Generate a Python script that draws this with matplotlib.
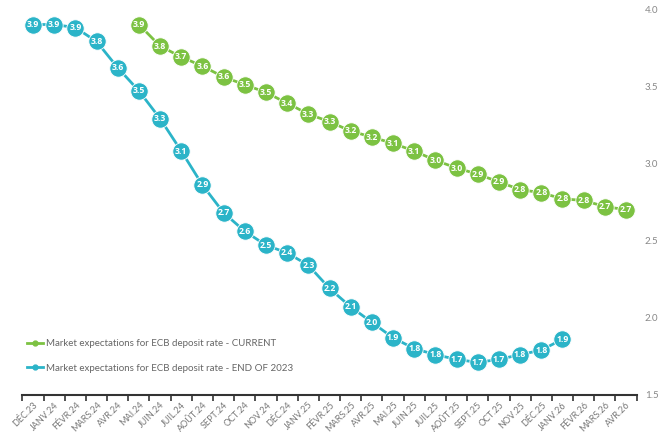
import matplotlib.pyplot as plt

plt.rcParams['font.family'] = ['Lato', 'DejaVu Sans']

# Monthly categories on the x axis
months = ["DÉC.23", "JANV.24", "FÉVR.24", "MARS.24", "AVR.24", "MAI.24", "JUIN.24",
          "JUIL.24", "AOÛT.24", "SEPT.24", "OCT.24", "NOV.24", "DÉC.24", "JANV.25",
          "FÉVR.25", "MARS.25", "AVR.25", "MAI.25", "JUIN.25", "JUIL.25", "AOÛT.25",
          "SEPT.25", "OCT.25", "NOV.25", "DÉC.25", "JANV.26", "FÉVR.26", "MARS.26",
          "AVR.26"]

# Expectations at end of 2023: DÉC.23 -> JANV.26
end2023 = [3.90, 3.90, 3.88, 3.79, 3.62, 3.47, 3.29, 3.08, 2.86, 2.68, 2.56, 2.47,
           2.42, 2.34, 2.19, 2.07, 1.97, 1.87, 1.80, 1.76, 1.73, 1.71, 1.73, 1.76,
           1.79, 1.86]

# Current expectations: MAI.24 -> AVR.26
current = [3.90, 3.76, 3.69, 3.63, 3.56, 3.51, 3.46, 3.39, 3.32, 3.27, 3.21, 3.17,
           3.13, 3.08, 3.02, 2.97, 2.93, 2.88, 2.83, 2.81, 2.77, 2.76, 2.72, 2.70]

green = "#7cc242"
blue = "#2bb4c8"

fig = plt.figure(figsize=(6.59, 4.32), dpi=100)
ax = fig.add_axes([0.034, 0.086, 0.932, 0.893])

x_end = list(range(len(end2023)))
x_cur = list(range(5, 5 + len(current)))


def draw_series(xs, ys, color, label):
    ax.plot(xs, ys, color=color, lw=2, zorder=2)
    ax.plot(xs, ys, ls='none', marker='o', ms=12.5, color=color,
            markeredgecolor='white', markeredgewidth=0.6, zorder=3)
    for x, y in zip(xs, ys):
        ax.text(x, y, f"{y:.1f}", color='white', fontsize=6.2, fontweight='bold',
                family=['Open Sans', 'DejaVu Sans'],
                ha='center', va='center', zorder=4)
    # legend handle
    ax.plot([], [], color=color, lw=2, marker='o', ms=3.5, label=label)


draw_series(x_cur, current, green, "Market expectations for ECB deposit rate - CURRENT")
draw_series(x_end, end2023, blue, "Market expectations for ECB deposit rate - END OF 2023")

ax.set_xlim(-0.5, len(months) - 0.5)
ax.set_ylim(1.5, 4.0)

ax.set_xticks(range(len(months)))
ax.set_xticklabels(months, rotation=45, ha='right', rotation_mode='anchor',
                   fontsize=6.5, color='#777777')
ax.set_xticks([i - 0.5 for i in range(len(months) + 1)], minor=True)
ax.tick_params(axis='x', which='major', length=0, pad=4)
ax.tick_params(axis='x', which='minor', length=4, width=1.2, color='#333333')

ax.yaxis.tick_right()
ax.set_yticks([1.5, 2.0, 2.5, 3.0, 3.5, 4.0])
ax.set_yticklabels(["1.5", "2.0", "2.5", "3.0", "3.5", "4.0"])
ax.tick_params(axis='y', length=0, pad=6, labelsize=7, labelcolor='#888888')

for side in ['top', 'left', 'right']:
    ax.spines[side].set_visible(False)
ax.spines['bottom'].set_color('#333333')
ax.spines['bottom'].set_linewidth(1.5)

ax.legend(loc='lower left', bbox_to_anchor=(-0.006, 0.035), frameon=False,
          fontsize=7, labelcolor='#666666', handlelength=1.6, handletextpad=0.35,
          labelspacing=1.6)

fig.savefig("out.png", dpi=100)
